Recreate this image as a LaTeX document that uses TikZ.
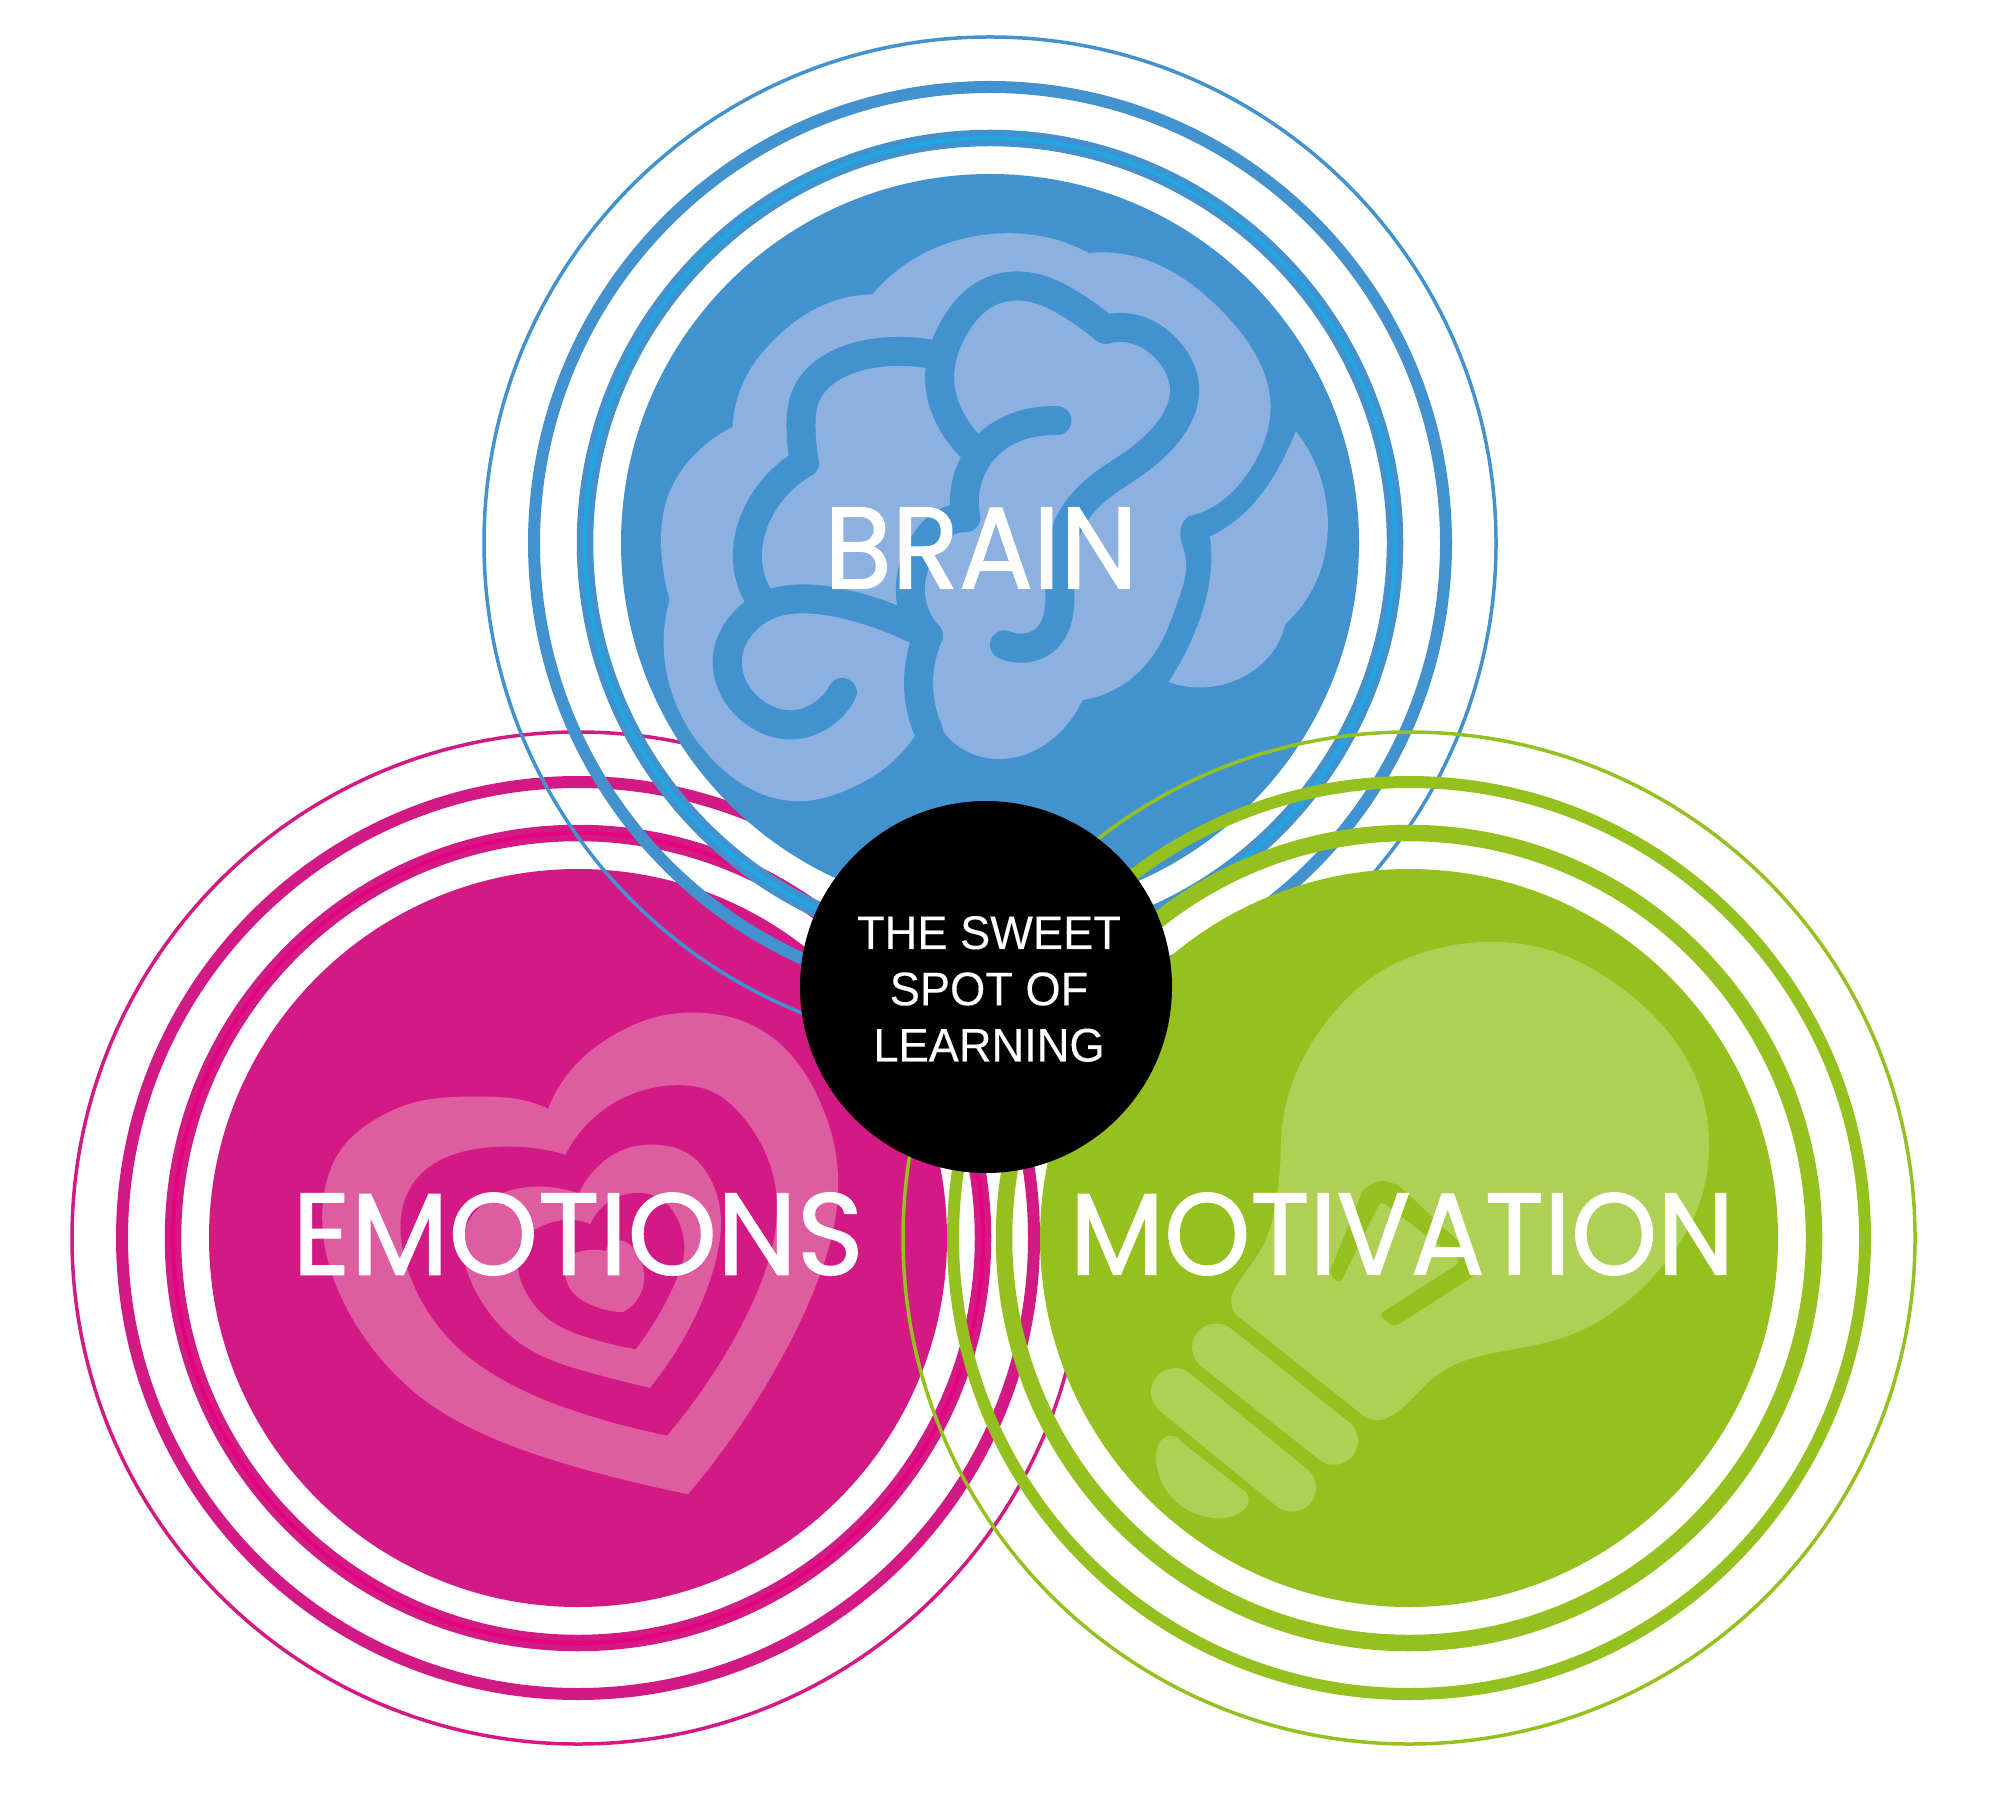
\documentclass[tikz,border=0pt]{standalone}
\usepackage{fontspec}
\usetikzlibrary{hobby}
\newfontfamily\ringfont[FakeBold=1.2]{Poppins}
\newfontfamily\spotfont[FakeStretch=0.96,FakeBold=0.2]{Liberation Sans}
\definecolor{brainblue}{HTML}{4292D0}
\definecolor{brainlight}{HTML}{8CB1E0}
\definecolor{brainbright}{HTML}{1CA9E3}
\definecolor{heartpink}{HTML}{D31A84}
\definecolor{heartlight}{HTML}{DE5CA0}
\definecolor{heartbright}{HTML}{E6007E}
\definecolor{bulbgreen}{HTML}{95C11F}
\definecolor{bulblight}{HTML}{AED055}
\tikzset{%
  ringlabel/.style={text=white,font=\ringfont\fontsize{33}{33}\selectfont,inner sep=0pt},
  spotlabel/.style={text=white,font=\spotfont\fontsize{13.4}{16}\selectfont,align=center,inner sep=0pt},
  brainline/.style={draw=brainblue,line width=0.29cm,line cap=round,line join=round,use Hobby shortcut},
  heartfill/.style={fill=#1,use Hobby shortcut},
  bulbfill/.style={fill=bulblight,use Hobby shortcut}
}
\newcommand{\ringset}[4]{%
  % three rings and the disc, #3 the colour, #4 the inner line
  \foreach \r/\w in {506/3.5,456/12,405/16.5} {\draw[#3,line width=\w*0.01cm] (#1,#2) circle (\r);}
  \draw[#4,line width=0.04cm] (#1,#2) circle (405);
  \fill[#3] (#1,#2) circle (369);
}
\begin{document}
\begin{tikzpicture}[x=0.01cm,y=-0.01cm]
  \useasboundingbox (0,0) rectangle (2010,1801);
  % emotions
  \ringset{578}{1238}{heartpink}{heartbright}
  \begin{scope}[shift={(280,980)},x=0.003827cm,y=-0.003444cm]
    \path[heartfill=heartlight] (700,373) .. (760,260) .. (870,160) .. (990,105) .. (1100,95) .. (1210,120) .. (1310,190) .. (1400,330)
      .. (1450,500) .. (1455,640) .. (1420,820) .. (1340,1030) .. (1220,1260) .. (1065,1490)
      -- (1065,1490) .. (800,1420) .. (560,1330) .. (380,1220) .. (250,1080) .. (160,920) .. (115,760) .. (115,620) .. (160,490)
      .. (240,410) .. (350,355) .. (520,338) .. (620,345) .. (700,373) -- cycle;
    \path[heartfill=heartpink] (745,507) .. (800,420) .. (900,340) .. (1030,305) .. (1130,325) .. (1210,400) .. (1270,510) .. (1297,660)
      .. (1270,830) .. (1190,1030) .. (1010,1320)
      -- (1010,1320) .. (800,1260) .. (600,1170) .. (450,1050) .. (360,910) .. (320,780) .. (320,660) .. (370,560) .. (470,500)
      .. (600,483) .. (680,490) .. (745,507) -- cycle;
    \path[heartfill=heartlight] (780,618) .. (830,540) .. (900,490) .. (990,478) .. (1060,500) .. (1120,570) .. (1150,680) .. (1140,800)
      .. (1090,960) .. (965,1182)
      -- (965,1182) .. (800,1135) .. (650,1070) .. (550,970) .. (490,850) .. (480,730) .. (530,650) .. (600,610) .. (700,600) .. (780,618) -- cycle;
    \path[heartfill=heartpink] (810,708) .. (850,650) .. (930,617) .. (1000,640) .. (1040,700) .. (1055,780) .. (1030,880) .. (928,1070)
      -- (928,1070) .. (800,1035) .. (710,990) .. (650,920) .. (620,830) .. (630,760) .. (680,715) .. (750,695) .. (810,708) -- cycle;
    \path[heartfill=heartlight] (850,785) .. (890,755) .. (930,790) .. (950,850) .. (893,963)
      -- (893,963) .. (800,935) .. (760,900) .. (745,860) .. (750,810) .. (790,785) .. (850,785) -- cycle;
  \end{scope}
  % brain
  \ringset{990}{543}{brainblue}{brainbright}
  \begin{scope}[shift={(620,170)},x=0.004847cm,y=-0.004209cm]
    \path[heartfill=brainlight] (520,295) .. (600,215) .. (700,165) .. (800,150) .. (880,160) .. (965,197)
      -- (965,197) .. (1060,205) .. (1150,250) .. (1240,335) .. (1310,440) .. (1340,560) .. (1325,650) .. (1280,740) .. (1220,800) .. (1170,822)
      -- (1170,822) .. (1155,850) .. (1165,920) .. (1150,1020) .. (1110,1130) .. (1050,1210) .. (953,1258)
      -- (953,1258) .. (910,1330) .. (850,1380) .. (775,1398) .. (700,1370) .. (650,1300)
      -- (612,1335) .. (545,1420) .. (470,1470) .. (375,1498) .. (290,1480) .. (200,1410) .. (120,1280) .. (90,1130) .. (102,1020)
      -- (102,1020) .. (85,900) .. (100,770) .. (150,680) .. (232,610)
      -- (232,610) .. (260,490) .. (320,400) .. (420,320) .. (520,295) -- cycle;
    \path[heartfill=brainlight] (1392,620) .. (1440,720) .. (1458,850) .. (1440,960) .. (1370,1078)
      -- (1370,1078) .. (1340,1150) .. (1280,1205) .. (1190,1228) .. (1130,1215)
      -- (1130,1215) .. (1190,1080) .. (1218,930) .. (1215,870)
      -- (1215,870) .. (1290,810) .. (1350,720) .. (1392,620) -- cycle;
    \draw[brainline] (458,1240) .. (420,1290) .. (350,1317) .. (280,1290) .. (230,1220) .. (222,1150) .. (250,1080) .. (300,1035)
      .. (375,1018) .. (480,1035) .. (590,1080) .. (635,1105);
    \draw[brainline] (635,1105) .. (615,1220) .. (635,1330);
    \draw[brainline] (295,1030) .. (265,950) .. (265,880) .. (295,790) .. (380,695);
    \draw[brainline] (380,695) .. (373,620) .. (385,530) .. (450,460) .. (560,431) .. (655,440);
    \draw[brainline] (735,670) .. (680,590) .. (659,510) .. (690,370) .. (760,290) .. (845,278) .. (930,320) .. (1000,378);
    \draw[brainline] (1000,378) .. (1060,378) .. (1130,430) .. (1163,520) .. (1130,620) .. (1060,695) .. (980,760) .. (925,840)
      .. (905,950) .. (905,1040) .. (880,1110) .. (830,1135) .. (792,1127);
    \draw[brainline] (900,595) .. (830,605) .. (760,650) .. (720,720) .. (712,825);
    \draw[brainline] (712,825) .. (665,840) .. (618,905) .. (598,1000) .. (635,1105);
  \end{scope}
  % motivation
  \ringset{1409}{1238}{bulbgreen}{bulbgreen}
  \begin{scope}[shift={(1060,920)},x=0.004337cm,y=-0.003954cm]
    \path[bulbfill] (510,550) .. (540,400) .. (620,250) .. (740,130) .. (860,75) .. (1000,55) .. (1140,80) .. (1280,160) .. (1400,280)
      .. (1480,440) .. (1497,580) .. (1470,730) .. (1400,860) .. (1290,980) .. (1150,1060) .. (980,1100) .. (870,1150) .. (770,1250)
      .. (730,1265) .. (690,1245)
      -- (420,1010) .. (395,960) .. (410,920) .. (470,820) .. (500,700) .. (510,550) -- cycle;
    \fill[bulbgreen,rounded corners=0.05cm] (620,895) -- (645,920) -- (740,710) -- (925,865) -- (735,998) -- (770,1030)
      -- (955,900) -- (965,860) -- (780,670) -- (740,657) -- (700,680) -- cycle;
    \draw[bulblight,line width=0.48cm,line cap=round] (360,1081) -- (632,1317);
    \draw[bulblight,line width=0.48cm,line cap=round] (265,1194) -- (535,1436);
    \path[bulbfill] (280,1320) .. (250,1305) .. (222,1370) .. (250,1450) .. (340,1510) .. (420,1495) .. (435,1470) .. (420,1440) -- cycle;
  \end{scope}
  % sweet spot
  \fill (986,987) circle (186);
  \node[ringlabel] (brain) at (981,548) {\scalebox{0.95}[1]{BRAIN}};
  \node[ringlabel] (emotions) at (578,1234) {\scalebox{0.98}[1]{EMOTIONS}};
  \node[ringlabel] (motivation) at (1402,1234) {\scalebox{0.945}[1]{MOTIVATION}};
  \node[spotlabel] (spot) at (989,989) {THE SWEET\\SPOT OF\\LEARNING};
\end{tikzpicture}
\end{document}
